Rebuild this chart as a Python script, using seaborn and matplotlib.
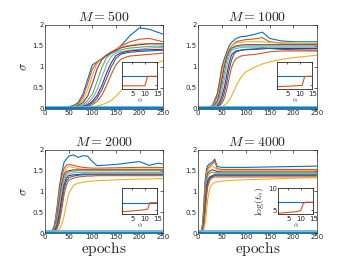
import numpy as np
import pandas as pd
import matplotlib
matplotlib.use("Agg")
import matplotlib.pyplot as plt
import seaborn as sns

# MATLAB default colour order
matlab_colors = ['#0072BD', '#D95319', '#EDB120', '#7E2F8E', '#77AC30', '#4DBEEE', '#A2142F']

# ---- main curves: sigma vs epochs, one grid of epochs per panel ----
titles = ['$M = 500$', '$M = 1000$', '$M = 2000$', '$M = 4000$']

epochs_500 = [0, 40, 60, 70, 80, 90, 100, 110, 120, 130, 140, 150, 160, 170, 180, 200, 220, 250]
sigma_500 = [
    [0.02, 0.03, 0.08, 0.15, 0.35, 0.70, 1.05, 1.12, 1.20, 1.27, 1.32, 1.38, 1.50, 1.62, 1.75, 1.93, 1.90, 1.78],
    [0.02, 0.03, 0.06, 0.12, 0.28, 0.60, 0.95, 1.10, 1.20, 1.28, 1.35, 1.42, 1.50, 1.55, 1.60, 1.66, 1.68, 1.60],
    [0.02, 0.02, 0.05, 0.10, 0.20, 0.45, 0.80, 1.08, 1.20, 1.28, 1.36, 1.42, 1.47, 1.50, 1.52, 1.55, 1.56, 1.55],
    [0.02, 0.02, 0.04, 0.08, 0.15, 0.30, 0.60, 0.95, 1.17, 1.28, 1.35, 1.40, 1.45, 1.48, 1.50, 1.53, 1.55, 1.55],
    [0.02, 0.02, 0.03, 0.06, 0.10, 0.20, 0.35, 0.65, 0.98, 1.22, 1.32, 1.37, 1.40, 1.43, 1.45, 1.47, 1.49, 1.50],
    [0.02, 0.02, 0.03, 0.05, 0.08, 0.14, 0.25, 0.45, 0.75, 1.05, 1.25, 1.33, 1.36, 1.38, 1.40, 1.42, 1.45, 1.47],
    [0.02, 0.02, 0.03, 0.04, 0.06, 0.10, 0.18, 0.32, 0.55, 0.85, 1.10, 1.27, 1.33, 1.36, 1.38, 1.40, 1.41, 1.42],
    [0.02, 0.02, 0.02, 0.03, 0.05, 0.08, 0.14, 0.25, 0.45, 0.72, 1.00, 1.20, 1.30, 1.33, 1.35, 1.37, 1.38, 1.40],
    [0.02, 0.02, 0.02, 0.03, 0.04, 0.06, 0.10, 0.18, 0.32, 0.55, 0.82, 1.05, 1.18, 1.23, 1.26, 1.28, 1.30, 1.33],
    [0.02, 0.02, 0.02, 0.02, 0.03, 0.04, 0.05, 0.07, 0.10, 0.14, 0.20, 0.30, 0.42, 0.55, 0.70, 0.90, 1.02, 1.15],
]

epochs_1000 = [0, 20, 30, 40, 45, 50, 55, 60, 65, 70, 75, 80, 90, 100, 120, 135, 150, 175, 200, 250]
sigma_1000 = [
    [0.02, 0.03, 0.08, 0.35, 0.65, 1.00, 1.20, 1.35, 1.50, 1.58, 1.63, 1.68, 1.72, 1.73, 1.78, 1.83, 1.68, 1.62, 1.60, 1.60],
    [0.02, 0.03, 0.07, 0.30, 0.58, 0.95, 1.15, 1.30, 1.42, 1.50, 1.55, 1.60, 1.63, 1.65, 1.67, 1.70, 1.60, 1.57, 1.56, 1.55],
    [0.02, 0.02, 0.06, 0.22, 0.45, 0.80, 1.10, 1.30, 1.42, 1.50, 1.54, 1.57, 1.59, 1.60, 1.60, 1.60, 1.58, 1.57, 1.56, 1.55],
    [0.02, 0.02, 0.05, 0.18, 0.38, 0.70, 1.00, 1.25, 1.38, 1.45, 1.48, 1.50, 1.52, 1.53, 1.53, 1.53, 1.53, 1.53, 1.53, 1.53],
    [0.02, 0.02, 0.04, 0.14, 0.30, 0.55, 0.85, 1.15, 1.32, 1.42, 1.46, 1.48, 1.50, 1.50, 1.50, 1.50, 1.50, 1.50, 1.50, 1.50],
    [0.02, 0.02, 0.03, 0.10, 0.22, 0.42, 0.70, 1.00, 1.25, 1.38, 1.42, 1.44, 1.46, 1.47, 1.47, 1.47, 1.47, 1.47, 1.47, 1.47],
    [0.02, 0.02, 0.03, 0.07, 0.15, 0.30, 0.50, 0.80, 1.08, 1.28, 1.35, 1.38, 1.40, 1.41, 1.42, 1.43, 1.44, 1.44, 1.44, 1.44],
    [0.02, 0.02, 0.02, 0.05, 0.10, 0.20, 0.38, 0.62, 0.92, 1.15, 1.30, 1.36, 1.40, 1.42, 1.43, 1.45, 1.44, 1.42, 1.41, 1.40],
    [0.02, 0.02, 0.02, 0.04, 0.07, 0.13, 0.25, 0.45, 0.72, 0.98, 1.12, 1.20, 1.26, 1.28, 1.30, 1.33, 1.36, 1.38, 1.38, 1.38],
    [0.02, 0.02, 0.02, 0.02, 0.03, 0.05, 0.08, 0.13, 0.20, 0.30, 0.42, 0.55, 0.75, 0.88, 1.00, 1.07, 1.12, 1.18, 1.22, 1.28],
]

epochs_2000 = [0, 10, 15, 20, 25, 30, 35, 40, 45, 50, 60, 70, 80, 90, 100, 110, 150, 200, 220, 240, 250]
sigma_2000 = [
    [0.02, 0.03, 0.06, 0.20, 0.60, 1.10, 1.45, 1.70, 1.78, 1.85, 1.88, 1.82, 1.86, 1.85, 1.72, 1.62, 1.65, 1.72, 1.63, 1.68, 1.66],
    [0.02, 0.03, 0.05, 0.18, 0.55, 1.00, 1.35, 1.55, 1.63, 1.65, 1.63, 1.60, 1.58, 1.57, 1.56, 1.56, 1.57, 1.58, 1.58, 1.58, 1.58],
    [0.02, 0.02, 0.04, 0.14, 0.45, 0.90, 1.25, 1.45, 1.55, 1.60, 1.58, 1.55, 1.54, 1.54, 1.54, 1.54, 1.54, 1.54, 1.54, 1.54, 1.54],
    [0.02, 0.02, 0.04, 0.12, 0.38, 0.80, 1.18, 1.40, 1.48, 1.50, 1.52, 1.52, 1.52, 1.52, 1.52, 1.52, 1.52, 1.52, 1.52, 1.52, 1.52],
    [0.02, 0.02, 0.03, 0.10, 0.30, 0.68, 1.08, 1.33, 1.43, 1.47, 1.49, 1.50, 1.50, 1.50, 1.50, 1.50, 1.50, 1.50, 1.50, 1.50, 1.50],
    [0.02, 0.02, 0.03, 0.08, 0.24, 0.55, 0.95, 1.25, 1.38, 1.42, 1.45, 1.46, 1.46, 1.46, 1.46, 1.46, 1.46, 1.46, 1.46, 1.46, 1.46],
    [0.02, 0.02, 0.03, 0.06, 0.18, 0.45, 0.82, 1.15, 1.32, 1.38, 1.40, 1.41, 1.42, 1.42, 1.42, 1.42, 1.42, 1.42, 1.42, 1.42, 1.42],
    [0.02, 0.02, 0.02, 0.05, 0.13, 0.35, 0.70, 1.05, 1.25, 1.33, 1.37, 1.39, 1.40, 1.40, 1.40, 1.40, 1.40, 1.40, 1.40, 1.40, 1.40],
    [0.02, 0.02, 0.02, 0.04, 0.10, 0.25, 0.55, 0.92, 1.15, 1.27, 1.32, 1.35, 1.36, 1.37, 1.37, 1.38, 1.38, 1.38, 1.38, 1.38, 1.38],
    [0.02, 0.02, 0.02, 0.03, 0.05, 0.10, 0.20, 0.40, 0.70, 0.95, 1.15, 1.20, 1.22, 1.24, 1.25, 1.26, 1.28, 1.30, 1.30, 1.31, 1.31],
]

epochs_4000 = [0, 5, 8, 10, 12, 15, 18, 20, 25, 30, 35, 40, 50, 75, 100, 150, 200, 250]
sigma_4000 = [
    [0.02, 0.03, 0.10, 0.30, 0.70, 1.30, 1.55, 1.62, 1.67, 1.70, 1.78, 1.60, 1.58, 1.58, 1.58, 1.59, 1.60, 1.61],
    [0.02, 0.03, 0.08, 0.25, 0.60, 1.20, 1.48, 1.55, 1.62, 1.66, 1.74, 1.55, 1.53, 1.53, 1.53, 1.53, 1.53, 1.53],
    [0.02, 0.02, 0.07, 0.20, 0.50, 1.10, 1.42, 1.50, 1.58, 1.60, 1.58, 1.52, 1.50, 1.50, 1.50, 1.50, 1.50, 1.50],
    [0.02, 0.02, 0.06, 0.18, 0.45, 1.00, 1.35, 1.44, 1.50, 1.52, 1.50, 1.48, 1.47, 1.47, 1.47, 1.47, 1.47, 1.47],
    [0.02, 0.02, 0.05, 0.15, 0.38, 0.90, 1.28, 1.38, 1.45, 1.46, 1.45, 1.45, 1.45, 1.45, 1.45, 1.45, 1.45, 1.45],
    [0.02, 0.02, 0.04, 0.12, 0.30, 0.80, 1.20, 1.30, 1.37, 1.35, 1.42, 1.43, 1.43, 1.43, 1.43, 1.43, 1.43, 1.43],
    [0.02, 0.02, 0.04, 0.10, 0.25, 0.70, 1.10, 1.25, 1.35, 1.38, 1.40, 1.40, 1.40, 1.40, 1.40, 1.40, 1.40, 1.40],
    [0.02, 0.02, 0.03, 0.08, 0.20, 0.60, 1.00, 1.18, 1.32, 1.36, 1.38, 1.38, 1.38, 1.38, 1.38, 1.38, 1.38, 1.38],
    [0.02, 0.02, 0.03, 0.07, 0.16, 0.50, 0.90, 1.10, 1.28, 1.33, 1.35, 1.35, 1.35, 1.35, 1.35, 1.35, 1.35, 1.35],
    [0.02, 0.02, 0.02, 0.04, 0.08, 0.25, 0.55, 0.80, 1.10, 1.18, 1.22, 1.23, 1.25, 1.27, 1.28, 1.30, 1.32, 1.33],
]

# flat runs that never take off (drawn at the bottom of every panel)
flat_levels = [0.04, 0.01]

# ---- insets: log(t_alpha) vs alpha ----
alpha = list(range(1, 16))
inset_blue = [6.9, 6.9, 6.7, 6.8]
inset_orange = [
    [4.8, 4.8, 4.8, 4.8, 4.8, 4.8, 4.8, 4.8, 4.8, 4.85, 6.9, 6.9, 6.9, 6.9, 6.9],
    [4.6, 4.62, 4.65, 4.68, 4.7, 4.73, 4.76, 4.8, 4.83, 4.87, 4.9, 6.9, 6.9, 6.9, 6.9],
    [4.6, 4.65, 4.7, 4.75, 4.8, 4.85, 4.9, 4.95, 5.0, 5.1, 5.2, 6.7, 6.7, 6.7, 6.7],
    [4.3, 4.3, 4.35, 4.4, 4.45, 4.5, 4.55, 4.6, 4.7, 4.9, 6.5, 6.8, 6.8, 6.8, 6.8],
]

all_epochs = [epochs_500, epochs_1000, epochs_2000, epochs_4000]
all_sigma = [sigma_500, sigma_1000, sigma_2000, sigma_4000]

sns.set_theme(style='white')
plt.rcParams['font.family'] = ['DejaVu Sans']
plt.rcParams['mathtext.fontset'] = 'cm'
plt.rcParams['xtick.direction'] = 'in'
plt.rcParams['ytick.direction'] = 'in'

fig = plt.figure(figsize=(3.5, 2.63), dpi=100)

main_pos = [
    [0.129, 0.586, 0.337, 0.319],
    [0.566, 0.586, 0.340, 0.319],
    [0.129, 0.114, 0.337, 0.316],
    [0.566, 0.114, 0.340, 0.316],
]
inset_pos = [
    [0.350, 0.660, 0.100, 0.103],
    [0.792, 0.660, 0.100, 0.103],
    [0.350, 0.185, 0.100, 0.099],
    [0.795, 0.185, 0.100, 0.099],
]

edge = '#262626'

for i in range(4):
    ax = fig.add_axes(main_pos[i])
    rows = []
    for k, vals in enumerate(all_sigma[i]):
        for e, s in zip(all_epochs[i], vals):
            rows.append({'epoch': e, 'sigma': s, 'run': k})
    df = pd.DataFrame(rows)
    pal = [matlab_colors[k % 7] for k in range(len(all_sigma[i]))]
    sns.lineplot(data=df, x='epoch', y='sigma', hue='run', palette=pal,
                 legend=False, ax=ax, linewidth=0.8, estimator=None)
    flat = pd.DataFrame({'epoch': [0, 250, 0, 250],
                         'sigma': [flat_levels[0], flat_levels[0], flat_levels[1], flat_levels[1]],
                         'run': [0, 0, 1, 1]})
    sns.lineplot(data=flat, x='epoch', y='sigma', hue='run',
                 palette=[matlab_colors[5], matlab_colors[0]], legend=False,
                 ax=ax, linewidth=1.3, estimator=None)

    ax.set_xlim(0, 250)
    ax.set_ylim(0, 2)
    ax.set_xticks([0, 50, 100, 150, 200, 250])
    ax.set_yticks([0, 0.5, 1, 1.5, 2])
    ax.set_yticklabels(['0', '0.5', '1', '1.5', '2'])
    ax.tick_params(labelsize=5, length=2, width=0.5, colors=edge, pad=1,
                   top=True, right=True)
    for sp in ax.spines.values():
        sp.set_linewidth(0.5)
        sp.set_color(edge)
    ax.set_title(titles[i], fontsize=10, pad=3)
    ax.set_xlabel('$\\mathrm{epochs}$' if i >= 2 else '', fontsize=11, labelpad=0)
    ax.set_ylabel('$\\sigma$' if i % 2 == 0 else '', fontsize=9, labelpad=2)

    # inset
    ins = fig.add_axes(inset_pos[i])
    idf = pd.DataFrame({'alpha': alpha + alpha,
                        'logt': [inset_blue[i]] * len(alpha) + inset_orange[i],
                        'curve': ['a'] * len(alpha) + ['b'] * len(alpha)})
    sns.lineplot(data=idf, x='alpha', y='logt', hue='curve',
                 palette=[matlab_colors[0], matlab_colors[1]], legend=False,
                 ax=ins, linewidth=0.8, estimator=None)
    ins.set_xlim(1, 15)
    ins.set_ylim(4, 10)
    ins.set_xticks([5, 10, 15])
    ins.set_yticks([5, 10])
    ins.tick_params(labelsize=5, length=1.5, width=0.5, colors=edge, pad=1,
                    top=True, right=True)
    if i < 3:
        ins.set_yticklabels([])
        ins.set_ylabel('')
    else:
        ins.set_ylabel('$\\log(t_\\alpha)$', fontsize=7, labelpad=1)
    ins.set_xlabel('$\\alpha$', fontsize=5, labelpad=0)
    for sp in ins.spines.values():
        sp.set_linewidth(0.6)
        sp.set_color(edge)

fig.savefig('out.png', dpi=100)
